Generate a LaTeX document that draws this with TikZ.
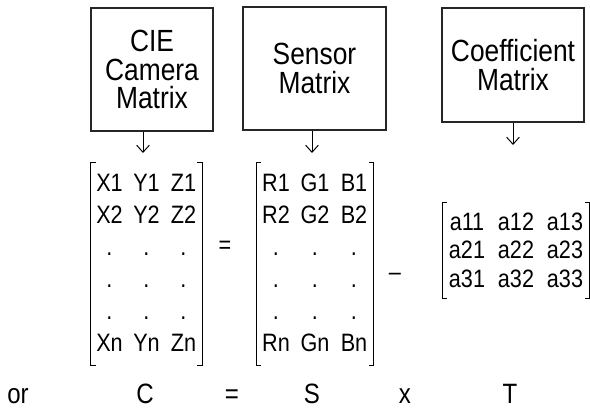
\documentclass[tikz,border=0pt]{standalone}
\usepackage{fontspec}
\setmainfont{Liberation Sans}[FakeStretch=0.86]
\usetikzlibrary{matrix,arrows.meta}

\tikzset{
  box/.style={draw=black!85, line width=0.8pt, align=center, font=\fontsize{21.8}{20.3}\selectfont},
  arr/.style={-{Straight Barb[length=5pt,width=9pt]}, line width=0.7pt},
  bracket/.style={line width=0.7pt},
  cell/.style={inner sep=0pt, anchor=center, font=\fontsize{17.9}{20}\selectfont},
  eqn/.style={anchor=base, font=\fontsize{19.9}{22}\selectfont}
}

\begin{document}
\begin{tikzpicture}
    \useasboundingbox (0,0) rectangle (14.75,10.2);

    \node[box, minimum width=3.05cm, minimum height=3.075cm] (cie) at (3.8, 8.4625) {CIE\\Camera\\Matrix};
    \node[box, minimum width=3.575cm, minimum height=3.075cm] (sens) at (7.8625, 8.4875) {Sensor\\Matrix};
    \node[box, minimum width=3.55cm, minimum height=2.85cm] (coef) at (12.825, 8.575) {Coefficient\\Matrix};

    \coordinate (c1) at (3.575, 6.375);
    \coordinate (c2) at (7.8, 6.375);
    \coordinate (c3) at (12.825, 6.575);

    \draw[arr] (cie.south -| c1) -- (c1);
    \draw[arr] (sens.south -| c2) -- (c2);
    \draw[arr] (coef.south -| c3) -- (c3);

    \matrix[matrix of nodes, inner xsep=0pt, inner ysep=0.12cm,
      nodes={cell, minimum width=0.925cm, text height=0.6cm, text depth=0.2cm}] (mc) at (3.6625, 3.6) {
      X1 & Y1 & Z1 \\
      X2 & Y2 & Z2 \\
      .  & .  & .  \\
      .  & .  & .  \\
      .  & .  & .  \\
      Xn & Yn & Zn \\
    };
    \matrix[matrix of nodes, inner xsep=0pt, inner ysep=0.12cm,
      nodes={cell, minimum width=0.975cm, text height=0.6cm, text depth=0.2cm}] (ms) at (7.875, 3.6) {
      R1 & G1 & B1 \\
      R2 & G2 & B2 \\
      .  & .  & .  \\
      .  & .  & .  \\
      .  & .  & .  \\
      Rn & Gn & Bn \\
    };
    \matrix[matrix of nodes, inner xsep=0pt, inner ysep=0.12cm,
      nodes={cell, minimum width=1.225cm, text height=0.55cm, text depth=0.1625cm}] (mt) at (12.9, 3.93) {
      a11 & a12 & a13 \\
      a21 & a22 & a23 \\
      a31 & a32 & a33 \\
    };

    \foreach \m in {mc,ms,mt} {
      \draw[bracket] ([xshift=0.125cm]\m.north west) -- (\m.north west) -- (\m.south west) -- ++(0.125,0);
      \draw[bracket] ([xshift=-0.125cm]\m.north east) -- (\m.north east) -- (\m.south east) -- ++(-0.125,0);
    }

    \node[cell] (eq1) at (5.625, 4.025) {=};
    \node[cell] (dash) at (9.875, 3.275) {–};

    \node[eqn] (or) at (0.45, 0.1) {or};
    \node[eqn] (cc) at (3.625, 0.1) {C};
    \node[eqn] (eq2) at (5.8, 0.1) {=};
    \node[eqn] (ss) at (7.8, 0.1) {S};
    \node[eqn] (xx) at (10.125, 0.1) {x};
    \node[eqn] (tt) at (12.75, 0.1) {T};
\end{tikzpicture}
\end{document}
